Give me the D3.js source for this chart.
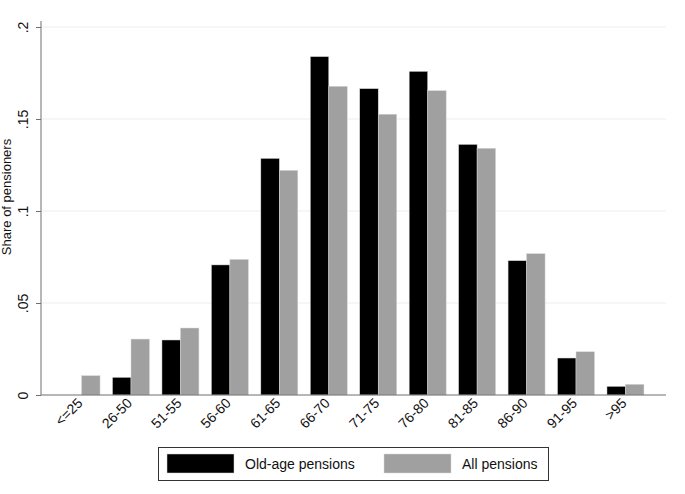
<!DOCTYPE html>
<html><head><meta charset="utf-8">
<script src="https://cdn.jsdelivr.net/npm/d3@7"></script>
<style>body{margin:0;background:#fff;} svg{display:block;font-family:"Liberation Sans",Arial,sans-serif;}</style>
</head><body>
<svg id="c" width="685" height="494"></svg>
<script>
const categories = ["<=25","26-50","51-55","56-60","61-65","66-70","71-75","76-80","81-85","86-90","91-95",">95"];
const oldAge = [0, 0.0096, 0.0299, 0.0707, 0.1286, 0.1839, 0.1665, 0.1759, 0.1362, 0.0730, 0.0201, 0.0047];
const allPensions = [0.0105, 0.0304, 0.0364, 0.0737, 0.1221, 0.1678, 0.1526, 0.1654, 0.1341, 0.0768, 0.0235, 0.0058];
const seriesNames = ["Old-age pensions", "All pensions"];
const yTicks = [0, 0.05, 0.1, 0.15, 0.2];
const yTickLabels = ["0", ".05", ".1", ".15", ".2"];

const svg = d3.select("#c");
const mLeft = 41, mRight = 666, mTop = 27, mBottom = 395;
const x = d3.scaleBand().domain(categories).range([mLeft, mRight]).paddingInner(0.252).paddingOuter(0.446);
const x1 = d3.scaleBand().domain(seriesNames).range([0, x.bandwidth()]);
const y = d3.scaleLinear().domain([0, 0.2]).range([mBottom, mTop]);
const colors = {"Old-age pensions": "#000000", "All pensions": "#a0a0a0"};

// gridlines
svg.append("g").selectAll("line").data(yTicks.filter(d => d > 0)).join("line")
  .attr("x1", mLeft).attr("x2", mRight).attr("y1", d => y(d)).attr("y2", d => y(d))
  .attr("stroke", "#e8efef").attr("stroke-width", 1);

// bars
const rows = categories.map((c, i) => ({c, vals: [oldAge[i], allPensions[i]]}));
const g = svg.append("g").selectAll("g").data(rows).join("g")
  .attr("transform", d => `translate(${x(d.c)},0)`);
g.selectAll("rect").data(d => d.vals.map((v, j) => ({name: seriesNames[j], v}))).join("rect")
  .attr("x", d => x1(d.name)).attr("width", x1.bandwidth())
  .attr("y", d => y(d.v)).attr("height", d => mBottom - y(d.v))
  .attr("fill", d => colors[d.name])
  .attr("stroke", d => d.v > 0 ? "#d8d8d8" : "none").attr("stroke-width", 0.5);

// y axis
const yAxis = d3.axisLeft(y).tickValues(yTicks).tickFormat((d, i) => yTickLabels[i]).tickSize(5).tickPadding(4);
const ya = svg.append("g").attr("transform", `translate(${mLeft},0)`).call(yAxis);
ya.select(".domain").attr("stroke", "#6e6e6e").attr("d", `M0,${y(0.2)-6}V${mBottom}`);
ya.selectAll(".tick line").attr("stroke", "#6e6e6e");
ya.selectAll(".tick text").attr("font-size", 14).attr("fill", "#111")
  .attr("x", 0).attr("y", 0).attr("dy", 0).attr("text-anchor", "middle")
  .attr("transform", "translate(-13,0) rotate(-90)");

// x axis
const xAxis = d3.axisBottom(x).tickSize(0).tickPadding(0);
const xa = svg.append("g").attr("transform", `translate(0,${mBottom})`).call(xAxis);
xa.select(".domain").attr("stroke", "#6e6e6e").attr("d", `M${mLeft},0H${mRight}`);
xa.selectAll(".tick text").attr("font-size", 14).attr("fill", "#111")
  .attr("text-anchor", "end").attr("y", 0).attr("dy", 0)
  .attr("transform", "translate(2,9) rotate(-45)");

// y label
svg.append("text").attr("transform", `translate(11,197) rotate(-90)`)
  .attr("text-anchor", "middle").attr("font-size", 13).attr("fill", "#111")
  .text("Share of pensioners");

// legend
const lg = svg.append("g");
lg.append("rect").attr("x", 158.5).attr("y", 447.5).attr("width", 390).attr("height", 33)
  .attr("fill", "#fff").attr("stroke", "#333").attr("stroke-width", 1);
const legItems = [{name: seriesNames[0], sx: 167, tx: 245}, {name: seriesNames[1], sx: 384, tx: 462}];
legItems.forEach(it => {
  lg.append("rect").attr("x", it.sx).attr("y", 454).attr("width", 67).attr("height", 19)
    .attr("fill", colors[it.name]).attr("stroke", "#d8d8d8").attr("stroke-width", 0.5);
  lg.append("text").attr("x", it.tx).attr("y", 469).attr("font-size", 14).attr("fill", "#111").text(it.name);
});
</script>
</body></html>
